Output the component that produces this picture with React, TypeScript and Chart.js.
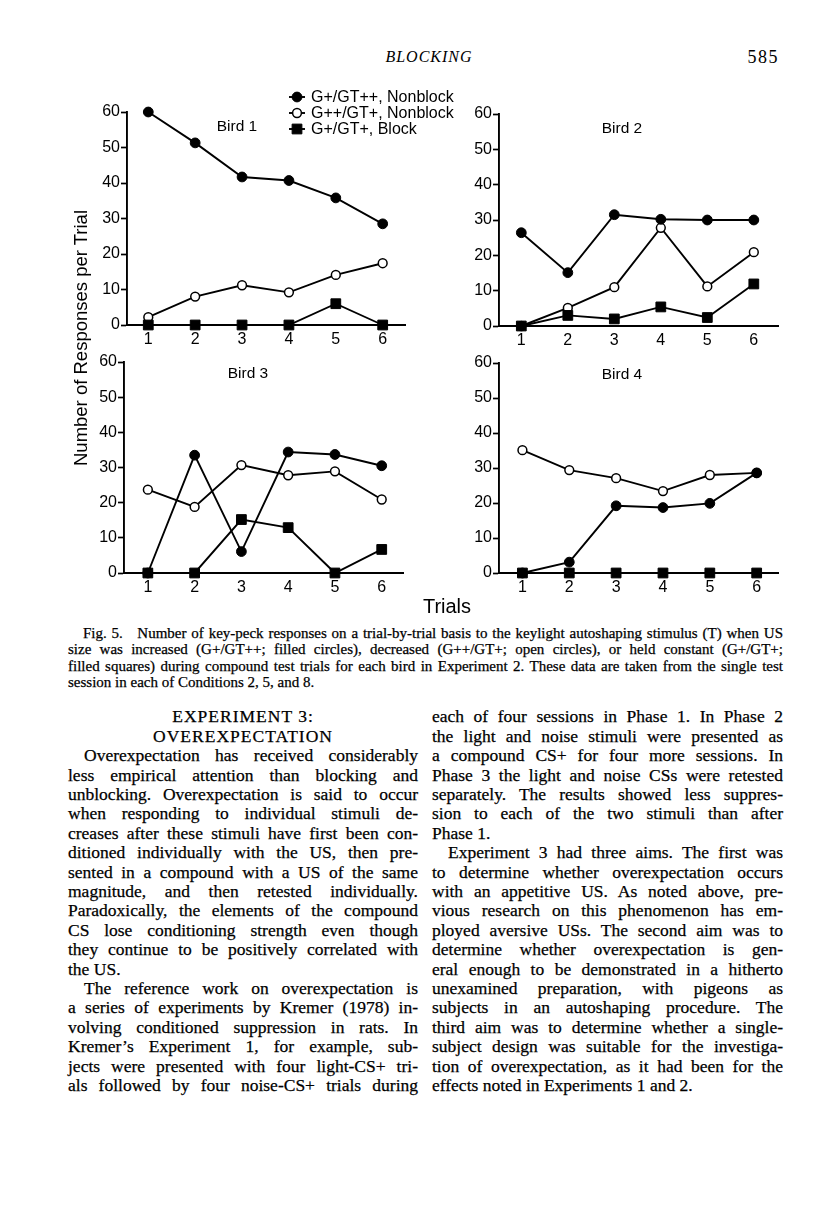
import React, { useEffect, useRef } from 'react';
import { Chart, registerables } from 'chart.js';

Chart.register(...registerables);

// ---------- data ----------
const trials = [1, 2, 3, 4, 5, 6];
const xTickLabels = ['1', '2', '3', '4', '5', '6'];
const yTicks = [0, 10, 20, 30, 40, 50, 60];
const seriesNames = ['G+/GT++, Nonblock', 'G++/GT+, Nonblock', 'G+/GT+, Block'];

const bird1Nonblock = [60, 51.3, 41.7, 40.7, 35.8, 28.5];
const bird1Decrease = [2.2, 8, 11.2, 9.2, 14.1, 17.4];
const bird1Block = [0, 0, 0, 0, 6, 0];

const bird2Nonblock = [26.4, 15.1, 31.5, 30.2, 30, 30];
const bird2Decrease = [0, 5.1, 11, 27.8, 11.2, 20.9];
const bird2Block = [0, 3, 2, 5.4, 2.4, 11.9];

const bird3Nonblock = [0, 33.5, 6.1, 34.4, 33.7, 30.5];
const bird3Decrease = [23.7, 18.8, 30.7, 27.8, 28.9, 20.9];
const bird3Block = [0, 0, 15.2, 12.9, 0, 6.7];

const bird4Nonblock = [0, 3.1, 19.2, 18.7, 19.9, 28.6];
const bird4Decrease = [35.1, 29.4, 27.1, 23.4, 28, 28.6];
const bird4Block = [0, 0, 0, 0, 0, 0];

// ---------- text ----------
const headerTitle = 'BLOCKING';
const pageNumber = '585';
const yAxisTitle = 'Number of Responses per Trial';
const xAxisTitle = 'Trials';

const captionLines = [
  { t: 'Fig. 5.\u00a0\u00a0 Number of key-peck responses on a trial-by-trial basis to the keylight autoshaping stimulus (T) when US', k: 'first' },
  { t: 'size was increased (G+/GT++; filled circles), decreased (G++/GT+; open circles), or held constant (G+/GT+;', k: 'full' },
  { t: 'filled squares) during compound test trials for each bird in Experiment 2. These data are taken from the single test', k: 'full' },
  { t: 'session in each of Conditions 2, 5, and 8.', k: 'last' },
];

const leftLines = [
  { t: 'EXPERIMENT 3:', k: 'head' },
  { t: 'OVEREXPECTATION', k: 'head' },
  { t: 'Overexpectation has received considerably', k: 'first' },
  { t: 'less empirical attention than blocking and', k: 'full' },
  { t: 'unblocking. Overexpectation is said to occur', k: 'full' },
  { t: 'when responding to individual stimuli de-', k: 'full' },
  { t: 'creases after these stimuli have first been con-', k: 'full' },
  { t: 'ditioned individually with the US, then pre-', k: 'full' },
  { t: 'sented in a compound with a US of the same', k: 'full' },
  { t: 'magnitude, and then retested individually.', k: 'full' },
  { t: 'Paradoxically, the elements of the compound', k: 'full' },
  { t: 'CS lose conditioning strength even though', k: 'full' },
  { t: 'they continue to be positively correlated with', k: 'full' },
  { t: 'the US.', k: 'last' },
  { t: 'The reference work on overexpectation is', k: 'first' },
  { t: 'a series of experiments by Kremer (1978) in-', k: 'full' },
  { t: 'volving conditioned suppression in rats. In', k: 'full' },
  { t: 'Kremer\u2019s Experiment 1, for example, sub-', k: 'full' },
  { t: 'jects were presented with four light-CS+ tri-', k: 'full' },
  { t: 'als followed by four noise-CS+ trials during', k: 'full' },
];

const rightLines = [
  { t: 'each of four sessions in Phase 1. In Phase 2', k: 'full' },
  { t: 'the light and noise stimuli were presented as', k: 'full' },
  { t: 'a compound CS+ for four more sessions. In', k: 'full' },
  { t: 'Phase 3 the light and noise CSs were retested', k: 'full' },
  { t: 'separately. The results showed less suppres-', k: 'full' },
  { t: 'sion to each of the two stimuli than after', k: 'full' },
  { t: 'Phase 1.', k: 'last' },
  { t: 'Experiment 3 had three aims. The first was', k: 'first' },
  { t: 'to determine whether overexpectation occurs', k: 'full' },
  { t: 'with an appetitive US. As noted above, pre-', k: 'full' },
  { t: 'vious research on this phenomenon has em-', k: 'full' },
  { t: 'ployed aversive USs. The second aim was to', k: 'full' },
  { t: 'determine whether overexpectation is gen-', k: 'full' },
  { t: 'eral enough to be demonstrated in a hitherto', k: 'full' },
  { t: 'unexamined preparation, with pigeons as', k: 'full' },
  { t: 'subjects in an autoshaping procedure. The', k: 'full' },
  { t: 'third aim was to determine whether a single-', k: 'full' },
  { t: 'subject design was suitable for the investiga-', k: 'full' },
  { t: 'tion of overexpectation, as it had been for the', k: 'full' },
  { t: 'effects noted in Experiments 1 and 2.', k: 'last' },
];

const SANS = '"Liberation Sans", Arial, Helvetica, sans-serif';
const SERIF = '"Liberation Serif", "Times New Roman", serif';

// legend layout (page coordinates)
const LEGEND_LINE_X1 = 289;
const LEGEND_LINE_X2 = 305;
const LEGEND_TEXT_X = 311;
const LEGEND_ROWS_Y = [97, 113, 129];

type PanelCfg = {
  label: string;
  labelX: number;
  labelY: number;
  L: number; R: number; T: number; B: number;
  xMin: number; xMax: number;
  values: number[][];
  legend?: boolean;
};

const panels: PanelCfg[] = [
  { label: 'Bird 1', labelX: 237, labelY: 125, L: 127, R: 405, T: 112, B: 325, xMin: 0.546, xMax: 6.476, values: [bird1Nonblock, bird1Decrease, bird1Block], legend: true },
  { label: 'Bird 2', labelX: 622, labelY: 127, L: 499, R: 778, T: 114, B: 326, xMin: 0.52, xMax: 6.52, values: [bird2Nonblock, bird2Decrease, bird2Block] },
  { label: 'Bird 3', labelX: 248, labelY: 372, L: 124, R: 403, T: 362, B: 573, xMin: 0.49, xMax: 6.455, values: [bird3Nonblock, bird3Decrease, bird3Block] },
  { label: 'Bird 4', labelX: 622, labelY: 373, L: 499, R: 778, T: 363, B: 573, xMin: 0.5, xMax: 6.455, values: [bird4Nonblock, bird4Decrease, bird4Block] },
];

const seriesStyles = [
  { pointStyle: 'circle', pointRadius: 4.9, pointBackgroundColor: '#000', pointBorderWidth: 1, order: 2 },
  { pointStyle: 'circle', pointRadius: 4.4, pointBackgroundColor: '#fff', pointBorderWidth: 1.5, order: 3 },
  { pointStyle: 'rect', pointRadius: 6.9, pointBackgroundColor: '#000', pointBorderWidth: 1, order: 1 },
];

function Panel({ cfg }: { cfg: PanelCfg }) {
  const ref = useRef<HTMLCanvasElement | null>(null);
  const padL = 50, padT = 45, padB = 30;
  const padR = cfg.legend ? 62 : 14;
  const cLeft = cfg.L - padL;
  const cTop = cfg.T - padT;
  const w = cfg.R - cfg.L + padL + padR;
  const h = cfg.B - cfg.T + padT + padB;

  useEffect(() => {
    if (!ref.current) return;
    const legendPlugin = {
      id: 'birdLegend',
      afterDraw(chart: any) {
        const ctx = chart.ctx;
        ctx.save();
        chart.data.datasets.forEach((ds: any, i: number) => {
          const y = LEGEND_ROWS_Y[i] - cTop;
          const x1 = LEGEND_LINE_X1 - cLeft;
          const x2 = LEGEND_LINE_X2 - cLeft;
          const xm = (x1 + x2) / 2;
          ctx.strokeStyle = '#000';
          ctx.lineWidth = ds.borderWidth;
          ctx.beginPath();
          ctx.moveTo(x1, y);
          ctx.lineTo(x2, y);
          ctx.stroke();
          ctx.fillStyle = ds.pointBackgroundColor;
          ctx.lineWidth = ds.pointBorderWidth;
          ctx.beginPath();
          if (ds.pointStyle === 'rect') {
            const s = ds.pointRadius * Math.SQRT1_2;
            ctx.rect(xm - s, y - s, 2 * s, 2 * s);
          } else {
            ctx.arc(xm, y, ds.pointRadius, 0, Math.PI * 2);
          }
          ctx.fill();
          ctx.stroke();
          ctx.fillStyle = '#000';
          ctx.font = '16px ' + SANS;
          ctx.textBaseline = 'middle';
          ctx.textAlign = 'left';
          ctx.fillText(ds.label, LEGEND_TEXT_X - cLeft, y + 0.5);
        });
        ctx.restore();
      },
    };

    const datasets = cfg.values.map((vals, si) => ({
      label: seriesNames[si],
      data: trials.map((t, i) => ({ x: t, y: vals[i] })),
      borderColor: '#000',
      borderWidth: 1.9,
      pointBorderColor: '#000',
      fill: false,
      tension: 0,
      clip: false as any,
      ...seriesStyles[si],
    }));

    const chart = new Chart(ref.current, {
      type: 'line',
      data: { datasets: datasets as any },
      options: {
        responsive: false,
        maintainAspectRatio: false,
        animation: false,
        events: [],
        layout: { padding: { top: padT, right: padR, left: 0, bottom: 0 } },
        plugins: { legend: { display: false }, tooltip: { enabled: false }, title: { display: false } },
        scales: {
          x: {
            type: 'linear',
            min: cfg.xMin,
            max: cfg.xMax,
            afterFit: (s: any) => { s.height = padB; },
            afterBuildTicks: (s: any) => { s.ticks = trials.map((v) => ({ value: v })); },
            ticks: {
              callback: (v: any) => { const i = trials.indexOf(Number(v)); return i >= 0 ? xTickLabels[i] : ''; },
              font: { family: SANS, size: 16 },
              color: '#000',
              padding: 5,
              maxRotation: 0,
              autoSkip: false,
            },
            grid: { display: false, drawTicks: false },
            border: { display: true, color: '#000', width: 1.9 },
          },
          y: {
            type: 'linear',
            min: 0,
            max: 60,
            afterFit: (s: any) => { s.width = padL; },
            afterBuildTicks: (s: any) => { s.ticks = yTicks.map((v) => ({ value: v })); },
            ticks: {
              font: { family: SANS, size: 16 },
              color: '#000',
              padding: 1,
            },
            grid: { drawOnChartArea: false, drawTicks: true, tickLength: 6, tickColor: '#000', tickWidth: 1.7 },
            border: { display: true, color: '#000', width: 1.9 },
          },
        },
      },
      plugins: cfg.legend ? [legendPlugin as any] : [],
    });
    return () => chart.destroy();
  }, []);

  return (
    <canvas
      ref={ref}
      width={w}
      height={h}
      style={{ position: 'absolute', left: cLeft, top: cTop, width: w, height: h }}
    />
  );
}

function Label(props: { x: number; y: number; size: number; text: string; align?: 'left' | 'center' | 'right'; family?: string; style?: React.CSSProperties }) {
  const { x, y, size, text, align = 'center', family = SANS, style = {} } = props;
  const lh = Math.round(size * 1.25);
  const w = 900;
  const left = align === 'center' ? x - w / 2 : align === 'left' ? x : x - w;
  return (
    <div style={{ position: 'absolute', left, top: y - lh / 2, width: w, height: lh, lineHeight: lh + 'px', fontSize: size, fontFamily: family, textAlign: align, whiteSpace: 'nowrap', color: '#000', ...style }}>
      {text}
    </div>
  );
}

function TextBlock(props: { lines: { t: string; k: string }[]; x: number; w: number; y0: number; pitch: number; size: number; indent: number; headStyle?: React.CSSProperties }) {
  const { lines, x, w, y0, pitch, size, indent, headStyle } = props;
  return (
    <>
      {lines.map((ln, i) => {
        const isHead = ln.k === 'head';
        const style: React.CSSProperties = {
          position: 'absolute',
          left: x,
          top: y0 + i * pitch - pitch / 2,
          width: w,
          height: pitch,
          lineHeight: pitch + 'px',
          fontSize: size,
          fontFamily: SERIF,
          color: '#000',
          WebkitTextStroke: '0.25px #000',
          textAlign: isHead ? 'center' : 'justify',
          textAlignLast: isHead ? 'center' : ln.k === 'last' ? 'left' : 'justify',
          textIndent: ln.k === 'first' ? indent : 0,
          ...(isHead ? headStyle : {}),
        } as any;
        return <div key={i} style={style}>{ln.t}</div>;
      })}
    </>
  );
}

export default function App() {
  return (
    <div style={{ position: 'absolute', left: 0, top: 0, width: 816, height: 1207, background: '#fff', overflow: 'hidden' }}>
      <Label x={429} y={57} size={16} text={headerTitle} family={SERIF} style={{ fontStyle: 'italic', letterSpacing: 1 }} />
      <Label x={779} y={57} size={18} text={pageNumber} family={SERIF} align="right" style={{ letterSpacing: 1.5 }} />

      {panels.map((p, i) => <Panel key={i} cfg={p} />)}
      {panels.map((p, i) => <Label key={'b' + i} x={p.labelX} y={p.labelY} size={15.5} text={p.label} />)}

      <div style={{ position: 'absolute', left: 81 - 200, top: 338 - 12, width: 400, height: 24, lineHeight: '24px', fontSize: 18.5, fontFamily: SANS, textAlign: 'center', transform: 'rotate(-90deg)', whiteSpace: 'nowrap', color: '#000' }}>
        {yAxisTitle}
      </div>
      <Label x={447} y={606} size={20} text={xAxisTitle} />

      <TextBlock lines={captionLines} x={68} w={715} y0={633} pitch={16.5} size={15} indent={15} />
      <TextBlock lines={leftLines} x={68} w={350} y0={717} pitch={19.4} size={17.5} indent={16} headStyle={{ letterSpacing: 1 }} />
      <TextBlock lines={rightLines} x={432} w={351} y0={717} pitch={19.4} size={17.5} indent={16} />
    </div>
  );
}
